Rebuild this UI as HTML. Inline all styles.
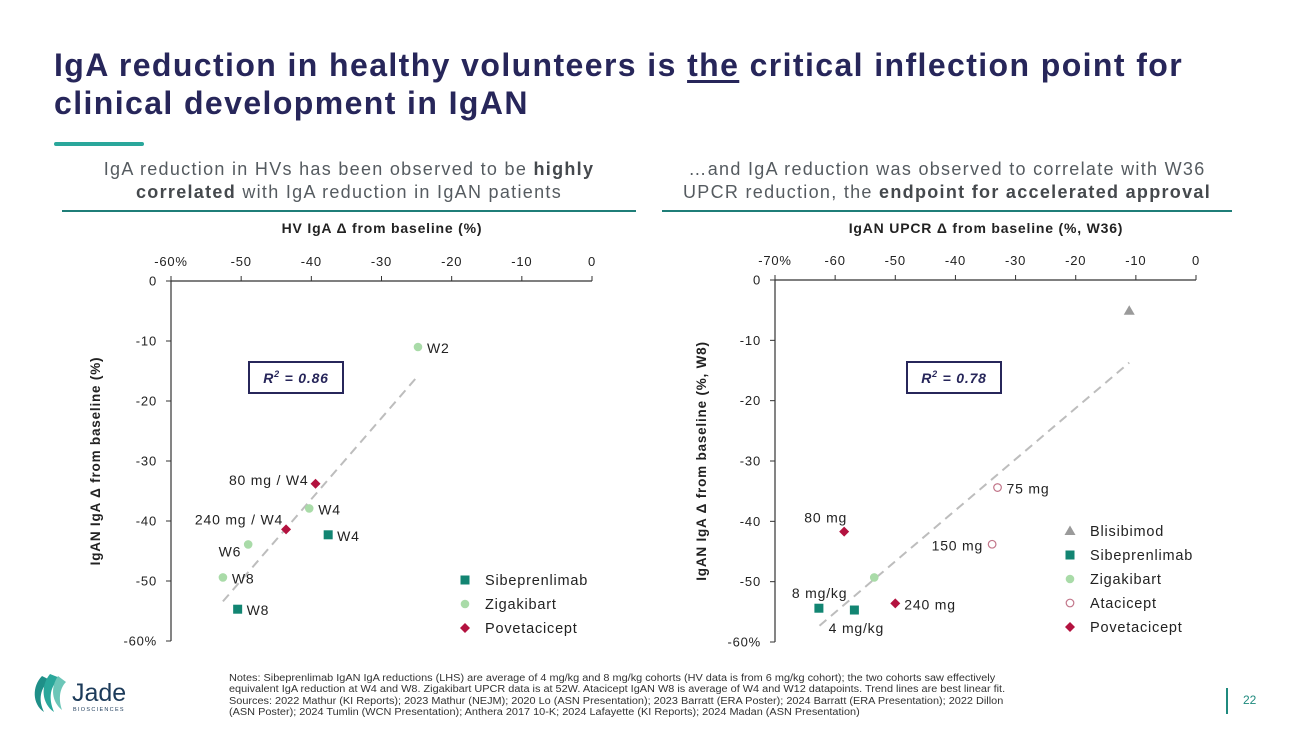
<!DOCTYPE html>
<html><head><meta charset="utf-8"><style>
body{margin:0;width:1300px;height:731px;background:#fff;position:relative;overflow:hidden;font-family:"Liberation Sans",Arial,sans-serif}
.abs{position:absolute}
#title{left:54px;top:46px;font-size:32px;font-weight:bold;color:#27265a;line-height:38px;width:1240px;letter-spacing:1.4px;white-space:nowrap}
#title u{text-decoration-thickness:3px;text-underline-offset:4px}
.sub{font-size:18px;color:#555b60;text-align:center;line-height:23px;white-space:nowrap;letter-spacing:1.3px}
.sub b{color:#45494d}
.rule{height:2px;background:#1f7e78}
#notes{left:229px;top:673px;font-size:10px;color:#333;line-height:11.3px;white-space:nowrap;transform:scaleX(1.09);transform-origin:left top}
svg text{letter-spacing:0.8px}
</style></head><body>
<div id="title" class="abs">IgA reduction in healthy volunteers is <u>the</u> critical inflection point for<br>clinical development in IgAN</div>
<div class="abs" style="left:54px;top:142px;width:90px;height:4px;background:#2aa79b;border-radius:2px"></div>
<div class="abs sub" style="left:62px;top:158px;width:574px">IgA reduction in HVs has been observed to be <b>highly</b><br><b>correlated</b> with IgA reduction in IgAN patients</div>
<div class="abs rule" style="left:62px;top:210px;width:574px"></div>
<div class="abs sub" style="left:662px;top:158px;width:570px">…and IgA reduction was observed to correlate with W36<br>UPCR reduction, the <b>endpoint for accelerated approval</b></div>
<div class="abs rule" style="left:662px;top:210px;width:570px"></div>
<div id="notes" class="abs">Notes: Sibeprenlimab IgAN IgA reductions (LHS) are average of 4 mg/kg and 8 mg/kg cohorts (HV data is from 6 mg/kg cohort); the two cohorts saw effectively<br>equivalent IgA reduction at W4 and W8. Zigakibart UPCR data is at 52W. Atacicept IgAN W8 is average of W4 and W12 datapoints. Trend lines are best linear fit.<br>Sources: 2022 Mathur (KI Reports); 2023 Mathur (NEJM); 2020 Lo (ASN Presentation); 2023 Barratt (ERA Poster); 2024 Barratt (ERA Presentation); 2022 Dillon<br>(ASN Poster); 2024 Tumlin (WCN Presentation); Anthera 2017 10-K; 2024 Lafayette (KI Reports); 2024 Madan (ASN Presentation)</div>
<div class="abs" style="left:1226px;top:688px;width:2px;height:26px;background:#1f8a7e"></div>
<div class="abs" style="left:1243px;top:693px;font-size:12px;color:#1f8a7e">22</div>
<svg class="abs" style="left:30px;top:670px" width="120" height="50">
<path d="M12 6 C2 16 2 34 14 42 C8 30 10 18 20 10 Z" fill="#1f8f88"/>
<path d="M20 4 C10 16 12 34 24 42 C18 28 20 16 30 8 Z" fill="#2aa79b"/>
<path d="M28 6 C20 18 22 32 32 40 C28 28 30 18 36 12 Z" fill="#6cc6b8"/>
<text x="42" y="31" font-size="25" fill="#1d3b5a" font-family="Liberation Sans" style="letter-spacing:0">Jade</text>
<text x="43" y="41" font-size="5.5" fill="#1d3b5a" style="letter-spacing:1.3px">BIOSCIENCES</text>
</svg>
<svg id="chart" class="abs" style="left:0;top:0" width="1300" height="731"></svg>
<script>
// Left chart data
const leftXTicks=["-60%","-50","-40","-30","-20","-10","0"];
const leftYTicks=["0","-10","-20","-30","-40","-50","-60%"];
const leftSibX=[-37.6,-50.5];const leftSibY=[-42.3,-54.7];const leftSibLbl=["W4","W8"];
const leftZigX=[-24.8,-40.3,-49.0,-52.6];const leftZigY=[-11.0,-37.9,-43.9,-49.4];const leftZigLbl=["W2","W4","W6","W8"];
const leftPovX=[-39.4,-43.6];const leftPovY=[-33.8,-41.4];const leftPovLbl=["80 mg / W4","240 mg / W4"];
const leftTrendX=[-52.6,-24.8];const leftTrendY=[-53.4,-15.8];
// Right chart data
const rightXTicks=["-70%","-60","-50","-40","-30","-20","-10","0"];
const rightYTicks=["0","-10","-20","-30","-40","-50","-60%"];
const rightBliX=[-11.1];const rightBliY=[-5.1];
const rightSibX=[-62.7,-56.8];const rightSibY=[-54.4,-54.7];const rightSibLbl=["8 mg/kg","4 mg/kg"];
const rightZigX=[-53.5];const rightZigY=[-49.3];
const rightAtaX=[-33.0,-33.9];const rightAtaY=[-34.4,-43.8];const rightAtaLbl=["75 mg","150 mg"];
const rightPovX=[-58.5,-50.0];const rightPovY=[-41.7,-53.6];const rightPovLbl=["80 mg","240 mg"];
const rightTrendX=[-62.6,-11.1];const rightTrendY=[-57.3,-13.7];

const NS="http://www.w3.org/2000/svg";const svg=document.getElementById('chart');
function el(t,a,txt){const e=document.createElementNS(NS,t);for(const k in a)e.setAttribute(k,a[k]);if(txt!==undefined)e.textContent=txt;svg.appendChild(e);return e;}
const C={sib:"#128572",zig:"#a9dba8",pov:"#b3123f",ata:"#c2768a",bli:"#9a9a9a"};
function marker(type,x,y){let e;
 if(type==='sib')e=el('rect',{x:x-4.5,y:y-4.5,width:9,height:9,fill:C.sib});
 else if(type==='zig')e=el('circle',{cx:x,cy:y,r:4.3,fill:C.zig});
 else if(type==='pov')e=el('path',{d:`M${x} ${y-5}L${x+5} ${y}L${x} ${y+5}L${x-5} ${y}Z`,fill:C.pov});
 else if(type==='ata')e=el('circle',{cx:x,cy:y,r:3.8,fill:'#fff',stroke:C.ata,'stroke-width':1.2});
 else e=el('path',{d:`M${x} ${y-5.5}L${x+5.5} ${y+4}L${x-5.5} ${y+4}Z`,fill:C.bli});
 return e;}
function axis(o){
 const sx=v=>o.x0+(v-o.xmin)/(0-o.xmin)*(o.x1-o.x0);
 const sy=v=>o.y0+(v/-60)*(o.y1-o.y0);
 let e=el('path',{d:`M${o.x0} ${o.y0}H${o.x1}M${o.x0} ${o.y0}V${o.y1}`,stroke:'#333','stroke-width':1.2,fill:'none'});
 
 o.xt.forEach((t,i)=>{const v=o.xmin+i*10;const x=sx(v);
  el('line',{x1:x,y1:o.y0,x2:x,y2:o.y0-5,stroke:'#333'});
  e=el('text',{x:x,y:o.y0-15,'font-size':13,'text-anchor':'middle',fill:'#222'},t);
  });
 o.yt.forEach((t,i)=>{const y=sy(-i*10);
  el('line',{x1:o.x0,y1:y,x2:o.x0-5,y2:y,stroke:'#333'});
  e=el('text',{x:o.x0-14,y:y+4.5,'font-size':13,'text-anchor':'end',fill:'#222'},t);
  });
 e=el('text',{x:o.xtx,y:233,'font-size':14,'font-weight':'bold','text-anchor':'middle',fill:'#222'},o.xtitle);
 
 e=el('text',{x:0,y:0,'font-size':13.5,'font-weight':'bold','text-anchor':'middle',fill:'#222',transform:`translate(${o.ytx},${(o.y0+o.y1)/2}) rotate(-90)`},o.ytitle);
 
 e=el('line',{x1:sx(o.tx[0]),y1:sy(o.ty[0]),x2:sx(o.tx[1]),y2:sy(o.ty[1]),stroke:'#bdbdbd','stroke-width':2,'stroke-dasharray':'9,6'});
 
 return {sx,sy};}
function series(ax,type,xs,ys,lbls,pos,id){xs.forEach((v,i)=>{const x=ax.sx(v),y=ax.sy(ys[i]);
 let m=marker(type,x,y);
 if(lbls&&lbls[i]){const p=pos[i];let t=el('text',{x:x+p[0],y:y+p[1],'font-size':14,fill:'#222','text-anchor':p[2]||'start'},lbls[i]);
  }});}
function rbox(x,y,txt,id){let r=el('rect',{x:x,y:y,width:94,height:31,fill:'#fff',stroke:'#27265a','stroke-width':2});
 
 let t=el('text',{x:x+47,y:y+21,'font-size':14,'font-weight':'bold','font-style':'italic','text-anchor':'middle',fill:'#27265a'});
 t.innerHTML=`R<tspan font-size="9" dy="-6">2</tspan><tspan dy="6"> = ${txt}</tspan>`;}
function legend(x,y,items,id){items.forEach((it,i)=>{const yy=y+i*24;let m=marker(it[0],x,yy);
 
 let t=el('text',{x:x+20,y:yy+5,'font-size':14.5,fill:'#222'},it[1]);});}

const L=axis({id:'left',x0:171,x1:592,y0:281,y1:641,xmin:-60,xt:leftXTicks,yt:leftYTicks,xtitle:'HV IgA Δ from baseline (%)',xtx:382,ytitle:'IgAN IgA Δ from baseline (%)',ytx:100,tx:leftTrendX,ty:leftTrendY});
rbox(249,362,'0.86','left-r2-box');
series(L,'sib',leftSibX,leftSibY,leftSibLbl,[[9,6],[9,6]],'left-sibeprenlimab');
series(L,'zig',leftZigX,leftZigY,leftZigLbl,[[9,6],[9,6],[-7,12,'end'],[9,6]],'left-zigakibart');
series(L,'pov',leftPovX,leftPovY,leftPovLbl,[[-7,1,'end'],[-3,-5,'end']],'left-povetacicept');
legend(465,580,[['sib','Sibeprenlimab'],['zig','Zigakibart'],['pov','Povetacicept']],'left');

const R=axis({id:'right',x0:775,x1:1196,y0:280,y1:642,xmin:-70,xt:rightXTicks,yt:rightYTicks,xtitle:'IgAN UPCR Δ from baseline (%, W36)',xtx:986,ytitle:'IgAN IgA Δ from baseline (%, W8)',ytx:706,tx:rightTrendX,ty:rightTrendY});
rbox(907,362,'0.78','right-r2-box');
series(R,'bli',rightBliX,rightBliY,null,null,'right-blisibimod');
series(R,'sib',rightSibX,rightSibY,rightSibLbl,[[-27,-10],[2,23,'middle']],'right-sibeprenlimab');
series(R,'zig',rightZigX,rightZigY,null,null,'right-zigakibart');
series(R,'ata',rightAtaX,rightAtaY,rightAtaLbl,[[9,6],[-9,6,'end']],'right-atacicept');
series(R,'pov',rightPovX,rightPovY,rightPovLbl,[[3,-9,'end'],[9,6]],'right-povetacicept');
legend(1070,531,[['bli','Blisibimod'],['sib','Sibeprenlimab'],['zig','Zigakibart'],['ata','Atacicept'],['pov','Povetacicept']],'right');
</script>
</body></html>
